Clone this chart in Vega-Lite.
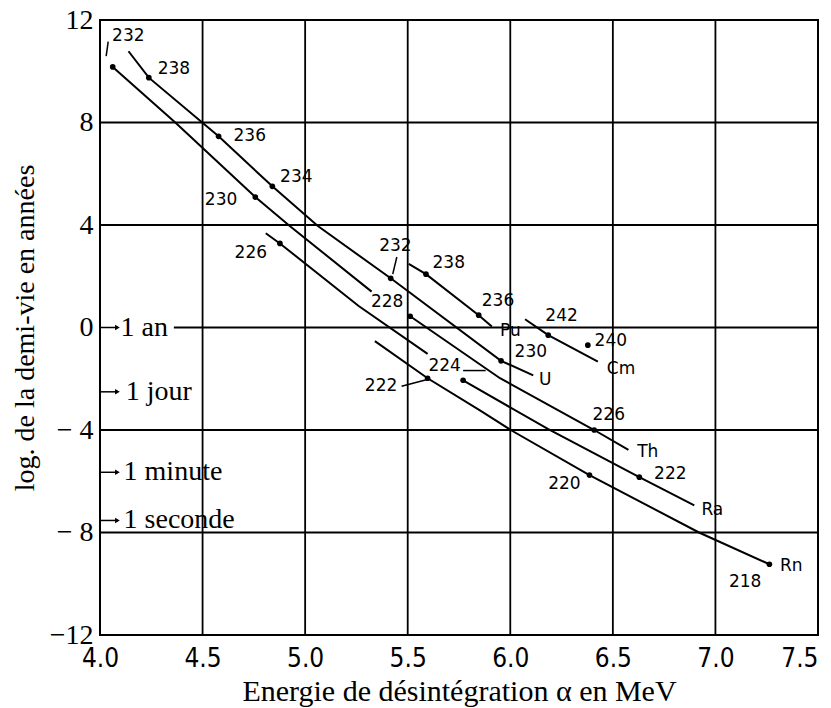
{
  "$schema": "https://vega.github.io/schema/vega-lite/v6.json",
  "width": 718,
  "height": 615,
  "autosize": "none",
  "padding": {"left": 100, "top": 20, "right": 13, "bottom": 73},
  "background": "white",
  "config": {
    "view": {"stroke": "black", "strokeWidth": 2},
    "axis": {"domain": false, "ticks": false, "grid": false, "labelColor": "black", "titleColor": "black", "titleFontWeight": "normal"}
  },
  "datasets": {
    "grid": [
      {"x": 4.5, "x2": 4.5, "y": -12, "y2": 12},
      {"x": 5.0, "x2": 5.0, "y": -12, "y2": 12},
      {"x": 5.5, "x2": 5.5, "y": -12, "y2": 12},
      {"x": 6.0, "x2": 6.0, "y": -12, "y2": 12},
      {"x": 6.5, "x2": 6.5, "y": -12, "y2": 12},
      {"x": 7.0, "x2": 7.0, "y": -12, "y2": 12},
      {"x": 4.0, "x2": 7.5, "y": 8, "y2": 8},
      {"x": 4.0, "x2": 7.5, "y": 4, "y2": 4},
      {"x": 4.36, "x2": 7.5, "y": 0, "y2": 0},
      {"x": 4.0, "x2": 7.5, "y": -4, "y2": -4},
      {"x": 4.0, "x2": 7.5, "y": -8, "y2": -8}
    ],
    "curves": [
      {"seg": "U", "o": 1, "x": 4.139, "y": 10.78},
      {"seg": "U", "o": 2, "x": 4.238, "y": 9.75},
      {"seg": "U", "o": 3, "x": 4.578, "y": 7.46},
      {"seg": "U", "o": 4, "x": 4.840, "y": 5.51},
      {"seg": "U", "o": 5, "x": 5.062, "y": 3.96},
      {"seg": "U", "o": 6, "x": 5.417, "y": 1.92},
      {"seg": "U", "o": 7, "x": 5.955, "y": -1.30},
      {"seg": "U", "o": 8, "x": 6.112, "y": -1.87},
      {"seg": "Th1", "o": 1, "x": 4.062, "y": 10.17},
      {"seg": "Th1", "o": 2, "x": 4.367, "y": 8.0},
      {"seg": "Th1", "o": 3, "x": 4.757, "y": 5.09},
      {"seg": "Th1", "o": 4, "x": 4.925, "y": 3.96},
      {"seg": "Th1", "o": 5, "x": 5.324, "y": 1.40},
      {"seg": "Th2", "o": 1, "x": 5.512, "y": 0.44},
      {"seg": "Th2", "o": 2, "x": 5.95, "y": -1.98},
      {"seg": "Th2", "o": 3, "x": 6.409, "y": -4.0},
      {"seg": "Th2", "o": 4, "x": 6.576, "y": -4.78},
      {"seg": "Ra1", "o": 1, "x": 4.808, "y": 3.68},
      {"seg": "Ra1", "o": 2, "x": 4.877, "y": 3.28},
      {"seg": "Ra1", "o": 3, "x": 5.261, "y": 0.84},
      {"seg": "Ra1", "o": 4, "x": 5.597, "y": -1.03},
      {"seg": "Ra2", "o": 1, "x": 5.770, "y": -2.06},
      {"seg": "Ra2", "o": 2, "x": 6.183, "y": -3.96},
      {"seg": "Ra2", "o": 3, "x": 6.629, "y": -5.84},
      {"seg": "Ra2", "o": 4, "x": 6.897, "y": -6.94},
      {"seg": "Rn", "o": 1, "x": 5.340, "y": -0.53},
      {"seg": "Rn", "o": 2, "x": 5.597, "y": -1.98},
      {"seg": "Rn", "o": 3, "x": 5.854, "y": -3.24},
      {"seg": "Rn", "o": 4, "x": 6.002, "y": -4.0},
      {"seg": "Rn", "o": 5, "x": 6.386, "y": -5.76},
      {"seg": "Rn", "o": 6, "x": 6.92, "y": -8.0},
      {"seg": "Rn", "o": 7, "x": 7.263, "y": -9.24},
      {"seg": "Pu", "o": 1, "x": 5.505, "y": 2.48},
      {"seg": "Pu", "o": 2, "x": 5.589, "y": 2.08},
      {"seg": "Pu", "o": 3, "x": 5.846, "y": 0.48},
      {"seg": "Pu", "o": 4, "x": 5.91, "y": 0.04},
      {"seg": "Cm", "o": 1, "x": 6.072, "y": 0.32},
      {"seg": "Cm", "o": 2, "x": 6.185, "y": -0.30},
      {"seg": "Cm", "o": 3, "x": 6.427, "y": -1.33}
    ],
    "points": [
      {"el": "U", "a": 238, "x": 4.238, "y": 9.75},
      {"el": "U", "a": 236, "x": 4.578, "y": 7.46},
      {"el": "U", "a": 234, "x": 4.840, "y": 5.51},
      {"el": "U", "a": 232, "x": 5.417, "y": 1.92},
      {"el": "U", "a": 230, "x": 5.955, "y": -1.30},
      {"el": "Th", "a": 232, "x": 4.062, "y": 10.17},
      {"el": "Th", "a": 230, "x": 4.757, "y": 5.09},
      {"el": "Th", "a": 228, "x": 5.512, "y": 0.44},
      {"el": "Th", "a": 226, "x": 6.409, "y": -4.0},
      {"el": "Ra", "a": 226, "x": 4.877, "y": 3.28},
      {"el": "Ra", "a": 224, "x": 5.770, "y": -2.06},
      {"el": "Ra", "a": 222, "x": 6.629, "y": -5.84},
      {"el": "Rn", "a": 222, "x": 5.597, "y": -1.98},
      {"el": "Rn", "a": 220, "x": 6.386, "y": -5.76},
      {"el": "Rn", "a": 218, "x": 7.263, "y": -9.24},
      {"el": "Pu", "a": 238, "x": 5.589, "y": 2.08},
      {"el": "Pu", "a": 236, "x": 5.846, "y": 0.48},
      {"el": "Cm", "a": 242, "x": 6.185, "y": -0.30},
      {"el": "Cm", "a": 240, "x": 6.378, "y": -0.69}
    ],
    "labels": [
      {"t": "232", "x": 4.138, "y": 11.39},
      {"t": "238", "x": 4.36, "y": 10.10},
      {"t": "236", "x": 4.73, "y": 7.46},
      {"t": "234", "x": 4.957, "y": 5.86},
      {"t": "230", "x": 4.59, "y": 4.97},
      {"t": "226", "x": 4.735, "y": 2.92},
      {"t": "232", "x": 5.44, "y": 3.2},
      {"t": "228", "x": 5.40, "y": 1.0},
      {"t": "238", "x": 5.70, "y": 2.52},
      {"t": "236", "x": 5.94, "y": 1.04},
      {"t": "Pu", "x": 6.0, "y": -0.15},
      {"t": "242", "x": 6.25, "y": 0.44},
      {"t": "240", "x": 6.49, "y": -0.53},
      {"t": "Cm", "x": 6.54, "y": -1.6},
      {"t": "230", "x": 6.10, "y": -0.95},
      {"t": "U", "x": 6.17, "y": -2.06},
      {"t": "224", "x": 5.68, "y": -1.52},
      {"t": "222", "x": 5.37, "y": -2.29},
      {"t": "226", "x": 6.48, "y": -3.43},
      {"t": "Th", "x": 6.67, "y": -4.86},
      {"t": "222", "x": 6.78, "y": -5.72},
      {"t": "220", "x": 6.264, "y": -6.12},
      {"t": "Ra", "x": 6.985, "y": -7.14},
      {"t": "Rn", "x": 7.37, "y": -9.3},
      {"t": "218", "x": 7.145, "y": -9.92}
    ],
    "arrows": [
      {"x": 4.04, "y": 11.16, "x2": 4.03, "y2": 10.59},
      {"x": 5.447, "y": 2.75, "x2": 5.427, "y2": 2.08},
      {"x": 5.77, "y": -1.68, "x2": 5.88, "y2": -1.68},
      {"x": 5.47, "y": -2.29, "x2": 5.60, "y2": -2.02},
      {"x": 4.0, "y": 0, "x2": 4.085, "y2": 0},
      {"x": 4.0, "y": -2.51, "x2": 4.085, "y2": -2.51},
      {"x": 4.0, "y": -5.65, "x2": 4.085, "y2": -5.65},
      {"x": 4.0, "y": -7.53, "x2": 4.085, "y2": -7.53}
    ],
    "heads": [
      {"x": 4.085, "y": 0},
      {"x": 4.085, "y": -2.51},
      {"x": 4.085, "y": -5.65},
      {"x": 4.085, "y": -7.53}
    ],
    "units": [
      {"t": "1 an", "x": 4.1, "y": 0},
      {"t": "1 jour", "x": 4.125, "y": -2.51},
      {"t": "1 minute", "x": 4.115, "y": -5.65},
      {"t": "1 seconde", "x": 4.115, "y": -7.53}
    ]
  },
  "layer": [
    {
      "data": {"name": "grid"},
      "mark": {"type": "rule", "color": "black", "strokeWidth": 1.8},
      "encoding": {
        "x": {
          "field": "x", "type": "quantitative",
          "scale": {"domain": [4, 7.5], "nice": false, "zero": false},
          "axis": {
            "values": [4.0, 4.5, 5.0, 5.5, 6.0, 6.5, 7.0, 7.5],
            "format": ".1f",
            "labelFont": "Liberation Sans Narrow, DejaVu Sans Condensed, Liberation Sans",
            "labelFontSize": 26,
            "labelPadding": 10,
            "labelFlush": false,
            "labelAlign": {"condition": {"test": "datum.value >= 7.5", "value": "right"}, "value": "center"},
            "labelOverlap": false,
            "title": "Energie de désintégration α en MeV",
            "titleFont": "Liberation Serif",
            "titleFontSize": 30,
            "titlePadding": 5
          }
        },
        "x2": {"field": "x2"},
        "y": {
          "field": "y", "type": "quantitative",
          "scale": {"domain": [-12, 12], "nice": false, "zero": false},
          "axis": {
            "values": [-12, -8, -4, 0, 4, 8, 12],
            "labelExpr": "datum.value < 0 ? (datum.value <= -10 ? '−' : '− ') + abs(datum.value) : datum.value",
            "labelFont": "Liberation Serif",
            "labelFontSize": 28,
            "labelPadding": 7,
            "labelFlush": false,
            "labelOverlap": false,
            "title": "log. de la demi-vie en années",
            "titleFont": "Liberation Serif",
            "titleFontSize": 28,
            "titlePadding": 10
          }
        },
        "y2": {"field": "y2"}
      }
    },
    {
      "data": {"name": "curves"},
      "mark": {"type": "line", "color": "black", "strokeWidth": 2},
      "encoding": {
        "x": {"field": "x", "type": "quantitative"},
        "y": {"field": "y", "type": "quantitative"},
        "detail": {"field": "seg"},
        "order": {"field": "o", "type": "quantitative"}
      }
    },
    {
      "data": {"name": "points"},
      "mark": {"type": "point", "shape": "circle", "filled": true, "color": "black", "size": 32, "opacity": 1},
      "encoding": {
        "x": {"field": "x", "type": "quantitative"},
        "y": {"field": "y", "type": "quantitative"}
      }
    },
    {
      "data": {"name": "arrows"},
      "mark": {"type": "rule", "color": "black", "strokeWidth": 1.5},
      "encoding": {
        "x": {"field": "x", "type": "quantitative"},
        "y": {"field": "y", "type": "quantitative"},
        "x2": {"field": "x2"},
        "y2": {"field": "y2"}
      }
    },
    {
      "data": {"name": "heads"},
      "mark": {"type": "point", "shape": "triangle-right", "filled": true, "color": "black", "size": 30, "opacity": 1},
      "encoding": {
        "x": {"field": "x", "type": "quantitative"},
        "y": {"field": "y", "type": "quantitative"}
      }
    },
    {
      "data": {"name": "labels"},
      "mark": {"type": "text", "font": "DejaVu Sans", "fontSize": 17, "color": "black", "align": "center", "baseline": "middle"},
      "encoding": {
        "x": {"field": "x", "type": "quantitative"},
        "y": {"field": "y", "type": "quantitative"},
        "text": {"field": "t"}
      }
    },
    {
      "data": {"name": "units"},
      "mark": {"type": "text", "font": "Liberation Serif", "fontSize": 28, "color": "black", "align": "left", "baseline": "middle"},
      "encoding": {
        "x": {"field": "x", "type": "quantitative"},
        "y": {"field": "y", "type": "quantitative"},
        "text": {"field": "t"}
      }
    }
  ]
}
